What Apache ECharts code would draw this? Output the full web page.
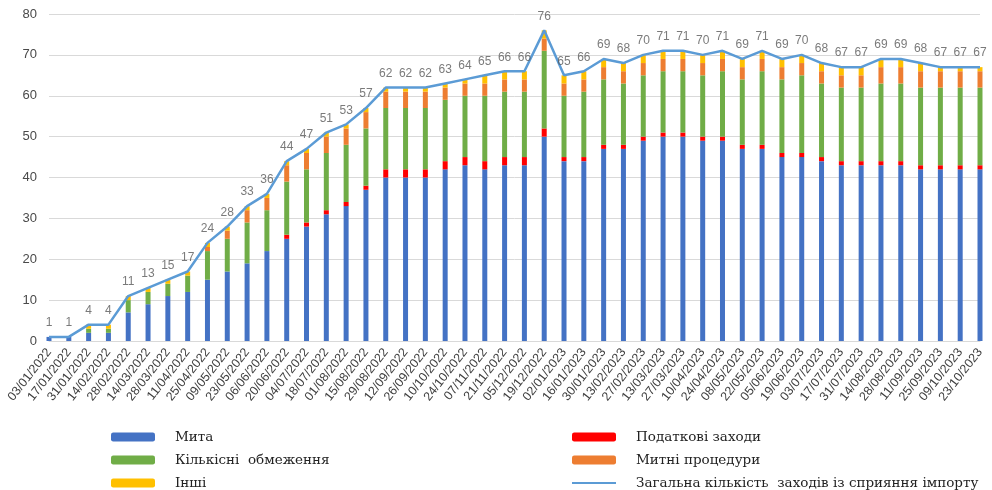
<!DOCTYPE html>
<html>
<head>
<meta charset="utf-8">
<title>Заходи зі сприяння імпорту</title>
<script src="https://cdn.jsdelivr.net/npm/echarts@6/dist/echarts.min.js"></script>
<style>
  html, body { margin: 0; padding: 0; background: #fff; }
  #chart { width: 992px; height: 490px; }
</style>
</head>
<body>
<div id="chart"></div>
<script>
// дати (кожні 2 тижні)
var dates = ['03/01/2022','17/01/2022','31/01/2022','14/02/2022','28/02/2022','14/03/2022','28/03/2022','11/04/2022',
  '25/04/2022','09/05/2022','23/05/2022','06/06/2022','20/06/2022','04/07/2022','18/07/2022','01/08/2022',
  '15/08/2022','29/08/2022','12/09/2022','26/09/2022','10/10/2022','24/10/2022','07/11/2022','21/11/2022',
  '05/12/2022','19/12/2022','02/01/2023','16/01/2023','30/01/2023','13/02/2023','27/02/2023','13/03/2023',
  '27/03/2023','10/04/2023','24/04/2023','08/05/2023','22/05/2023','05/06/2023','19/06/2023','03/07/2023',
  '17/07/2023','31/07/2023','14/08/2023','28/08/2023','11/09/2023','25/09/2023','09/10/2023','23/10/2023'];

var myta       = [1,1,2,2,7,9,11,12,15,17,19,22,25,28,31,33,37,40,40,40,42,43,42,43,43,50,44,44,47,47,49,50,50,49,49,47,47,45,45,44,43,43,43,43,42,42,42,42];
var podatkovi  = [0,0,0,0,0,0,0,0,0,0,0,0,1,1,1,1,1,2,2,2,2,2,2,2,2,2,1,1,1,1,1,1,1,1,1,1,1,1,1,1,1,1,1,1,1,1,1,1];
var kilkisni   = [0,0,1,1,3,3,3,4,7,8,10,10,13,13,14,14,14,15,15,15,15,15,16,16,16,19,15,16,16,15,15,15,15,15,16,16,18,18,19,18,18,18,19,19,19,19,19,19];
var mytni      = [0,0,0,0,0,0,0,0,1,2,3,3,4,4,4,4,4,4,4,4,3,3,3,3,3,3,3,3,3,3,3,3,3,3,3,3,3,3,3,3,3,3,4,4,4,4,4,4];
var inshi      = [0,0,1,1,1,1,1,1,1,1,1,1,1,1,1,1,1,1,1,1,1,1,2,2,2,2,2,2,2,2,2,2,2,2,2,2,2,2,2,2,2,2,2,2,2,1,1,1];
var zagalna    = [1,1,4,4,11,13,15,17,24,28,33,36,44,47,51,53,57,62,62,62,63,64,65,66,66,76,65,66,69,68,70,71,71,70,71,69,71,69,70,68,67,67,69,69,68,67,67,67];

var yTicks = { min: 0, max: 80, step: 10 };

var lineName = 'Загальна кількість  заходів із сприяння імпорту';

var myChart = echarts.init(document.getElementById('chart'));

function barSeries(name, data, color) {
  return {
    name: name,
    type: 'bar',
    stack: 'all',
    barWidth: 5,
    data: data,
    itemStyle: { color: color },
    emphasis: { disabled: true }
  };
}

// спільні налаштування легенди (дві колонки як в оригіналі)
var legendText = {
  fontFamily: 'DejaVu Serif, serif', fontSize: 13.5, color: '#222',
  lineHeight: 14, padding: [0, 0, 0, 15]
};

var option = {
  animation: false,
  textStyle: { fontFamily: 'Liberation Sans, Arial, sans-serif' },
  grid: { left: 49, right: 12, top: 14, bottom: 149, containLabel: false },
  legend: [
    {
      orient: 'vertical', left: 111, top: 430, height: 80, padding: 0,
      itemWidth: 44, itemHeight: 9, itemGap: 9,
      icon: 'roundRect',
      textStyle: legendText,
      data: ['Мита', 'Кількісні  обмеження', 'Інші']
    },
    {
      orient: 'vertical', left: 571, top: 430, height: 80, padding: 0,
      itemWidth: 44, itemHeight: 9, itemGap: 9,
      textStyle: legendText,
      data: [
        { name: 'Податкові заходи', icon: 'roundRect' },
        { name: 'Митні процедури', icon: 'roundRect' },
        { name: lineName, itemStyle: { opacity: 0 } }
      ]
    }
  ],
  xAxis: {
    type: 'category',
    data: dates,
    boundaryGap: false,
    axisLine: { lineStyle: { color: '#D9D9D9' } },
    axisTick: { show: false },
    axisLabel: { rotate: 52, interval: 0, fontSize: 12.5, color: '#404040', margin: 9 }
  },
  yAxis: {
    type: 'value',
    min: yTicks.min, max: yTicks.max, interval: yTicks.step,
    axisLine: { show: false },
    axisTick: { show: false },
    axisLabel: { fontSize: 13, color: '#4a4a4a', margin: 12 },
    splitLine: { lineStyle: { color: '#D9D9D9' } }
  },
  series: [
    barSeries('Мита', myta, '#4472C4'),
    barSeries('Податкові заходи', podatkovi, '#FF0000'),
    barSeries('Кількісні  обмеження', kilkisni, '#70AD47'),
    barSeries('Митні процедури', mytni, '#ED7D31'),
    barSeries('Інші', inshi, '#FFC000'),
    {
      name: lineName,
      type: 'line',
      data: zagalna,
      symbol: 'none',
      lineStyle: { color: '#5B9BD5', width: 2.5 },
      itemStyle: { color: '#5B9BD5' },
      z: 5
    },
    {
      // підписи значень над лінією
      name: 'labels',
      type: 'scatter',
      data: zagalna,
      symbolSize: 0,
      itemStyle: { color: 'transparent' },
      label: { show: true, position: 'top', distance: 8, fontSize: 12, color: '#595959' },
      silent: true,
      z: 6
    }
  ]
};

myChart.setOption(option);
</script>
</body>
</html>
